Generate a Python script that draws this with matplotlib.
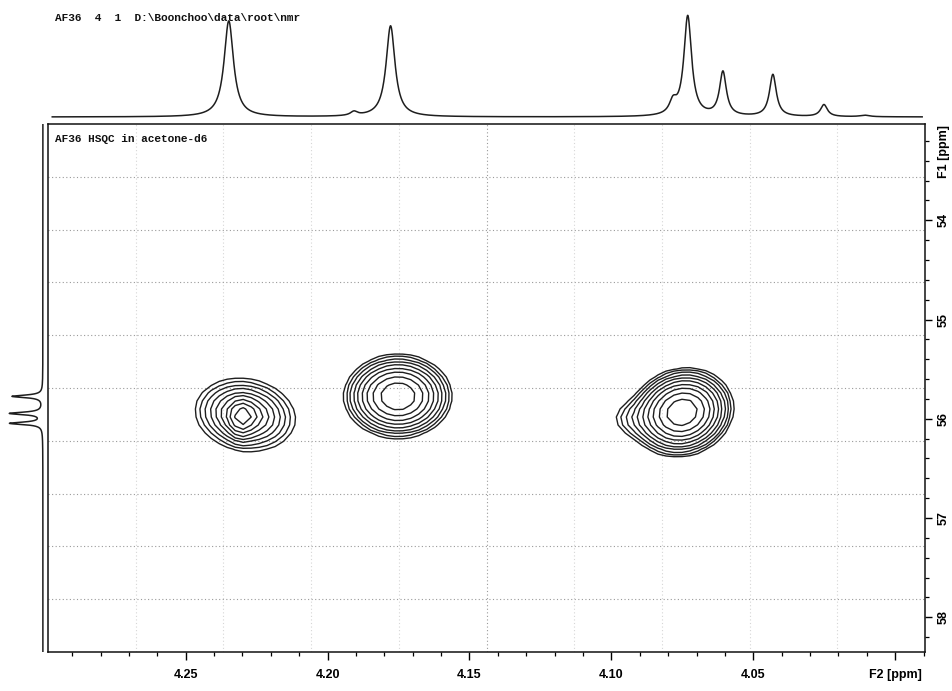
import numpy as np
import matplotlib
matplotlib.use("Agg")
import matplotlib.pyplot as plt
from matplotlib import transforms
from matplotlib.font_manager import FontProperties
from matplotlib.ticker import MultipleLocator, FuncFormatter

# ---- spectral window (ppm) ----
F2_LIMITS = (4.2985, 3.9895)
F1_LIMITS = (58.35, 53.03)

# ---- 1H trace along F2: Lorentzian lines ----
h_shift = [4.2348, 4.1907, 4.1778, 4.0783, 4.0731, 4.0607, 4.0431, 4.0251, 4.0107]
h_height = [96, 4, 91, 12, 100, 44, 42, 12, 1.5]
h_fwhm = [0.0040, 0.0030, 0.0038, 0.0030, 0.0033, 0.0029, 0.0029, 0.0029, 0.0040]

# ---- 13C trace along F1 ----
c_shift = [55.774, 55.946, 56.046]
c_height = [30, 32, 32]
c_fwhm = [0.03, 0.03, 0.03]

# ---- HSQC cross peaks (the last two are minor components) ----
cross_f2 = [4.2290, 4.1752, 4.0751, 4.0930, 4.2305]
cross_f1 = [55.96, 55.774, 55.935, 56.00, 56.00]
cross_amp = [11.0, 14.6, 19.4, 1.3, 5.0]    # relative to the lowest contour level
cross_w2 = [0.0089, 0.0116, 0.01045, 0.0080, 0.0035]
cross_w1 = [0.185, 0.258, 0.258, 0.18, 0.15]
cross_shape = [1.3, 2.0, 2.0, 2.0, 2.0]
cross_skew = [0.12, 0.0, -0.10, 0.0, 0.0]

contour_base = 1.0
contour_factor = 1.35
contour_count = 12

F2_MAJOR = [4.25, 4.20, 4.15, 4.10, 4.05, 4.00]
F1_MAJOR = [54, 55, 56, 57, 58]

W, H = 953, 691
fig = plt.figure(figsize=(W / 100, H / 100), dpi=100)
fig.patch.set_facecolor("white")

L, R, T, B = 48, 925, 124, 652
ax = fig.add_axes([L / W, (H - B) / H, (R - L) / W, (B - T) / H])
ax_top = fig.add_axes([L / W, (H - T) / H, (R - L) / W, T / H])
ax_left = fig.add_axes([0, (H - B) / H, L / W, (B - T) / H])


def lorentz(x, x0, h, fwhm):
    g = fwhm / 2.0
    return h * g * g / ((x - x0) ** 2 + g * g)


def cross_peak(X, Y, f2, f1, amp, w2, w1, p, skew):
    u = (X - f2) / w2
    v = (Y - f1) / w1
    q = u * u + v * v + 2 * skew * u * v
    return amp * np.exp(-np.power(np.maximum(q, 0.0), p / 2.0))


# ---- 2D contour plot ----
f2_axis = np.linspace(4.300, 3.988, 112)
f1_axis = np.linspace(53.0, 58.4, 68)
X, Y = np.meshgrid(f2_axis, f1_axis)
Z = np.zeros_like(X)
for args in zip(cross_f2, cross_f1, cross_amp, cross_w2, cross_w1,
                cross_shape, cross_skew):
    Z += cross_peak(X, Y, *args)
levels = contour_base * contour_factor ** np.arange(contour_count)
ax.contour(X, Y, Z, levels=levels, colors="#1e1e1e", linewidths=1.0)

ax.set_xlim(*F2_LIMITS)
ax.set_ylim(*F1_LIMITS)

# dotted grid: ten equal divisions of the frame
for k in range(1, 10):
    yk = F1_LIMITS[1] + (F1_LIMITS[0] - F1_LIMITS[1]) * k / 10
    ax.axhline(yk, color="#9a9a9a", lw=0.8, ls=(0, (1, 2.2)), zorder=0)
    xk = F2_LIMITS[0] + (F2_LIMITS[1] - F2_LIMITS[0]) * k / 10
    col = "#9a9a9a" if k == 5 else "#d6d6d6"
    ax.axvline(xk, color=col, lw=0.8, ls=(0, (1, 2.2)), zorder=0)

for s in ax.spines.values():
    s.set_linewidth(1.1)
    s.set_color("#111111")

tick_font = dict(family="Liberation Sans", weight="bold", size=9)

ax.xaxis.set_major_locator(plt.FixedLocator(F2_MAJOR))
ax.xaxis.set_minor_locator(MultipleLocator(0.01))
ax.xaxis.set_major_formatter(
    FuncFormatter(lambda v, pos: "F2 [ppm]" if abs(v - 4.00) < 1e-6 else f"{v:.2f}"))
ax.tick_params(axis="x", which="major", direction="out", length=5.5, width=1.0,
               pad=7, top=False, bottom=True)
ax.tick_params(axis="x", which="minor", direction="out", length=3.0, width=0.9,
               top=False, bottom=True)
for lab in ax.get_xticklabels():
    lab.set_fontproperties(FontProperties(**tick_font))

ax.yaxis.set_major_locator(plt.FixedLocator(F1_MAJOR))
ax.yaxis.set_minor_locator(MultipleLocator(0.2))
ax.yaxis.set_major_formatter(FuncFormatter(lambda v, pos: f"{v:.0f}"))
ax.yaxis.tick_right()
ax.tick_params(axis="y", which="major", direction="out", length=5.0, width=1.0,
               pad=4, left=False, right=True, labelrotation=90)
ax.tick_params(axis="y", which="minor", direction="out", length=3.0, width=0.9,
               left=False, right=True)
for lab in ax.get_yticklabels():
    lab.set_fontproperties(FontProperties(**tick_font))
    lab.set_verticalalignment("center")

f1_unit = transforms.offset_copy(
    transforms.blended_transform_factory(ax.transAxes, ax.transData),
    fig=fig, x=9.5, y=0, units="points")
ax.text(1.0, 53.31, "F1 [ppm]", transform=f1_unit, rotation=90,
        ha="left", va="center", **tick_font)

ax.text(7 / (R - L), 1 - 15 / (B - T), "AF36 HSQC in acetone-d6",
        transform=ax.transAxes, ha="left", va="center",
        family="Liberation Mono", weight="bold", fontsize=8, color="#111111")

# ---- 1H trace on top ----
x1 = np.linspace(4.2970, 3.9905, 4000)
trace = np.zeros_like(x1)
for x0, h, w in zip(h_shift, h_height, h_fwhm):
    trace += lorentz(x1, x0, h, w)
ax_top.plot(x1, trace, color="#1e1e1e", lw=1.1)
ax_top.set_xlim(*F2_LIMITS)
ax_top.set_ylim(-7, 117)
ax_top.axis("off")

# ---- 13C trace on the left ----
y1 = np.linspace(53.03, 58.35, 3000)
ctrace = np.zeros_like(y1)
for y0, h, w in zip(c_shift, c_height, c_fwhm):
    ctrace += lorentz(y1, y0, h, w)
ax_left.plot(ctrace, y1, color="#1e1e1e", lw=1.1)
ax_left.set_ylim(*F1_LIMITS)
ax_left.set_xlim(42, -5)
ax_left.axis("off")

fig.text(55 / W, 1 - 18 / H, "AF36  4  1  D:\\Boonchoo\\data\\root\\nmr",
         ha="left", va="center", family="Liberation Mono", weight="bold",
         fontsize=8, color="#111111")

fig.savefig("out.png", dpi=100, facecolor="white")
